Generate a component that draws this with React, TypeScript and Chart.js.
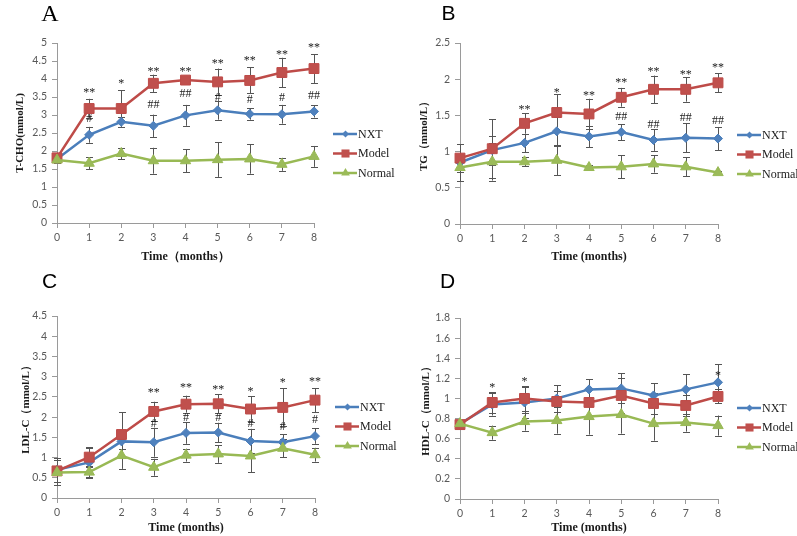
import React, { useEffect, useRef } from 'react';
import { Chart, registerables } from 'chart.js';

Chart.register(...registerables);

// ---------- data ----------
const months = [0, 1, 2, 3, 4, 5, 6, 7, 8];
const seriesNames = ['NXT', 'Model', 'Normal'];

// Panel A: T-CHO
const aNXT = [1.78, 2.45, 2.81, 2.7, 2.99, 3.13, 3.03, 3.02, 3.1];
const aNXTErr = [0.1, 0.22, 0.13, 0.31, 0.29, 0.26, 0.16, 0.26, 0.17];
const aModel = [1.81, 3.18, 3.18, 3.88, 3.97, 3.92, 3.96, 4.18, 4.29];
const aModelErr = [0.1, 0.27, 0.51, 0.24, 0.12, 0.37, 0.36, 0.41, 0.4];
const aNormal = [1.75, 1.66, 1.93, 1.73, 1.73, 1.76, 1.78, 1.63, 1.85];
const aNormalErr = [0.08, 0.16, 0.16, 0.36, 0.32, 0.48, 0.41, 0.18, 0.29];
const aStars = ['', '**', '*', '**', '**', '**', '**', '**', '**'];
const aStarY = [null, 3.72, 3.98, 4.3, 4.3, 4.54, 4.61, 4.77, 4.97];
const aHashes = ['', '#', '', '##', '##', '#', '#', '#', '##'];
const aHashY = [null, 2.91, null, 3.31, 3.61, 3.49, 3.44, 3.51, 3.56];

// Panel B: TG
const bNXT = [0.85, 1.02, 1.12, 1.28, 1.21, 1.27, 1.16, 1.19, 1.18];
const bNXTErr = [0.1, 0.2, 0.13, 0.2, 0.15, 0.11, 0.15, 0.2, 0.16];
const bModel = [0.91, 1.04, 1.39, 1.54, 1.52, 1.75, 1.86, 1.86, 1.95];
const bModelErr = [0.19, 0.41, 0.14, 0.25, 0.21, 0.13, 0.19, 0.17, 0.13];
const bNormal = [0.78, 0.86, 0.86, 0.88, 0.78, 0.79, 0.83, 0.79, 0.71];
const bNormalErr = [0.19, 0.26, 0.06, 0.21, 0.03, 0.16, 0.12, 0.13, 0.02];
const bStars = ['', '', '**', '*', '**', '**', '**', '**', '**'];
const bStarY = [null, null, 1.63, 1.86, 1.82, 2.0, 2.16, 2.11, 2.21];
const bHashes = ['', '', '', '', '', '##', '##', '##', '##'];
const bHashY = [null, null, null, null, null, 1.49, 1.38, 1.48, 1.44];

// Panel C: LDL-C
const cNXT = [0.7, 0.88, 1.4, 1.38, 1.61, 1.62, 1.41, 1.38, 1.53];
const cNXTErr = [0.3, 0.35, 0.2, 0.36, 0.27, 0.24, 0.3, 0.2, 0.19];
const cModel = [0.67, 1.01, 1.57, 2.14, 2.32, 2.33, 2.2, 2.24, 2.42];
const cModelErr = [0.1, 0.25, 0.55, 0.24, 0.21, 0.23, 0.31, 0.47, 0.3];
const cNormal = [0.63, 0.64, 1.05, 0.76, 1.06, 1.09, 1.04, 1.23, 1.07];
const cNormalErr = [0.32, 0.14, 0.33, 0.21, 0.16, 0.22, 0.4, 0.22, 0.17];
const cStars = ['', '', '', '**', '**', '**', '*', '*', '**'];
const cStarY = [null, null, null, 2.7, 2.83, 2.76, 2.73, 2.93, 2.97];
const cHashes = ['', '', '', '#', '#', '#', '#', '#', '#'];
const cHashY = [null, null, null, 1.85, 2.0, 2.0, 1.85, 1.78, 1.95];

// Panel D: HDL-C
const dNXT = [0.75, 0.94, 0.96, 1.0, 1.09, 1.1, 1.03, 1.09, 1.16];
const dNXTErr = [0.03, 0.11, 0.15, 0.13, 0.1, 0.15, 0.12, 0.15, 0.18];
const dModel = [0.74, 0.96, 1.0, 0.97, 0.96, 1.03, 0.95, 0.93, 1.02];
const dModelErr = [0.03, 0.1, 0.12, 0.1, 0.14, 0.17, 0.1, 0.1, 0.07];
const dNormal = [0.75, 0.66, 0.77, 0.78, 0.82, 0.84, 0.75, 0.76, 0.73];
const dNormalErr = [0.03, 0.07, 0.09, 0.13, 0.18, 0.19, 0.17, 0.09, 0.1];
const dStars = ['', '*', '*', '', '', '', '', '', '*'];
const dStarY = [null, 1.14, 1.2, null, null, null, null, null, 1.26];
const dHashes = ['', '', '', '', '', '', '', '', ''];
const dHashY = [null, null, null, null, null, null, null, null, null];

// ---------- styles ----------
const lineColors = ['#4A7EBB', '#BE4B48', '#98B954'];
const markerColors = ['#4F81BD', '#C0504D', '#9BBB59'];
const pointStyles = ['rectRot', 'rect', 'triangle'];
const pointRadii = [4.5, 7, 6];
const legendRadii = [3.5, 5.7, 5];
const drawOrder = [2, 1, 0];

type PanelSpec = {
  letter: string;
  letterFont: string;
  letterX: number;
  letterY: number;
  yTitle: string;
  xTitle: string;
  yMax: number;
  yStep: number;
  series: number[][];
  errs: number[][];
  stars: string[];
  starY: (number | null)[];
  hashes: string[];
  hashY: (number | null)[];
  box: { left: number; top: number; width: number; height: number };
  pad: { left: number; right: number; top: number; bottom: number };
  yWidth: number;
  xHeight: number;
  xTitlePad: { top: number; bottom: number };
  legendX: number;
  legendY: number;
};

const panels: PanelSpec[] = [
  {
    letter: 'A', letterFont: '24px "Liberation Serif"', letterX: 50, letterY: 21,
    yTitle: 'T-CHO(mmol/L)', xTitle: 'Time（months）', yMax: 5, yStep: 0.5,
    series: [aNXT, aModel, aNormal], errs: [aNXTErr, aModelErr, aNormalErr],
    stars: aStars, starY: aStarY, hashes: aHashes, hashY: aHashY,
    box: { left: 0, top: 0, width: 400, height: 268 },
    pad: { left: 10, right: 86, top: 43, bottom: 0 }, yWidth: 47, xHeight: 45,
    xTitlePad: { top: 4, bottom: 4 }, legendX: 333, legendY: 134,
  },
  {
    letter: 'B', letterFont: '21px "Liberation Sans"', letterX: 48.5, letterY: 20,
    yTitle: 'TG（mmol/L）', xTitle: 'Time (months)', yMax: 2.5, yStep: 0.5,
    series: [bNXT, bModel, bNormal], errs: [bNXTErr, bModelErr, bNormalErr],
    stars: bStars, starY: bStarY, hashes: bHashes, hashY: bHashY,
    box: { left: 400, top: 0, width: 397, height: 268 },
    pad: { left: 14, right: 79, top: 43, bottom: 0 }, yWidth: 46, xHeight: 44,
    xTitlePad: { top: 4, bottom: 4 }, legendX: 337, legendY: 135,
  },
  {
    letter: 'C', letterFont: '21px "Liberation Sans"', letterX: 49.5, letterY: 20,
    yTitle: 'LDL-C（mmol/L）', xTitle: 'Time (months)', yMax: 4.5, yStep: 0.5,
    series: [cNXT, cModel, cNormal], errs: [cNXTErr, cModelErr, cNormalErr],
    stars: cStars, starY: cStarY, hashes: cHashes, hashY: cHashY,
    box: { left: 0, top: 268, width: 400, height: 268 },
    pad: { left: 16, right: 85, top: 48, bottom: 0 }, yWidth: 41, xHeight: 38,
    xTitlePad: { top: 0, bottom: 1 }, legendX: 335, legendY: 139,
  },
  {
    letter: 'D', letterFont: '21px "Liberation Sans"', letterX: 47.5, letterY: 20,
    yTitle: 'HDL-C（mmol/L）', xTitle: 'Time (months)', yMax: 1.8, yStep: 0.2,
    series: [dNXT, dModel, dNormal], errs: [dNXTErr, dModelErr, dNormalErr],
    stars: dStars, starY: dStarY, hashes: dHashes, hashY: dHashY,
    box: { left: 400, top: 268, width: 397, height: 268 },
    pad: { left: 16, right: 79, top: 50, bottom: 0 }, yWidth: 44, xHeight: 37,
    xTitlePad: { top: 0, bottom: 1 }, legendX: 337, legendY: 140,
  },
];

function markerPath(ctx: CanvasRenderingContext2D, style: string, x: number, y: number, r: number) {
  ctx.beginPath();
  if (style === 'rectRot') {
    ctx.moveTo(x, y - r);
    ctx.lineTo(x + r, y);
    ctx.lineTo(x, y + r);
    ctx.lineTo(x - r, y);
  } else if (style === 'rect') {
    const s = r * Math.SQRT1_2;
    ctx.rect(x - s, y - s, 2 * s, 2 * s);
  } else {
    for (let k = 0; k < 3; k++) {
      const a = (k * 2 * Math.PI) / 3;
      const px = x + Math.sin(a) * r;
      const py = y - Math.cos(a) * r;
      if (k === 0) ctx.moveTo(px, py);
      else ctx.lineTo(px, py);
    }
  }
  ctx.closePath();
}

function buildChart(canvas: HTMLCanvasElement, p: PanelSpec) {
  const axisColor = '#9a9a9a';
  const tickFont = { family: 'Lato, "Liberation Sans", sans-serif', size: 10.5 };

  const errorBars = {
    id: 'errorBars',
    beforeDatasetsDraw(chart: any) {
      const { ctx, scales } = chart;
      const xs = scales.x;
      const ys = scales.y;
      ctx.save();
      ctx.strokeStyle = '#555555';
      ctx.lineWidth = 1;
      p.series.forEach((vals, si) => {
        vals.forEach((v, i) => {
          const e = p.errs[si][i];
          const px = Math.round(xs.getPixelForValue(months[i])) + 0.5;
          const top = ys.getPixelForValue(v + e);
          const bot = ys.getPixelForValue(v - e);
          ctx.beginPath();
          ctx.moveTo(px, top);
          ctx.lineTo(px, bot);
          ctx.moveTo(px - 3.5, Math.round(top) + 0.5);
          ctx.lineTo(px + 3.5, Math.round(top) + 0.5);
          ctx.moveTo(px - 3.5, Math.round(bot) + 0.5);
          ctx.lineTo(px + 3.5, Math.round(bot) + 0.5);
          ctx.stroke();
        });
      });
      ctx.restore();
    },
  };

  const marks = {
    id: 'marks',
    afterDatasetsDraw(chart: any) {
      const { ctx, scales } = chart;
      const xs = scales.x;
      const ys = scales.y;
      ctx.save();
      ctx.font = '12px "Liberation Serif"';
      ctx.fillStyle = '#1a1a1a';
      ctx.textAlign = 'center';
      ctx.textBaseline = 'alphabetic';
      months.forEach((m, i) => {
        const px = xs.getPixelForValue(m);
        const sy = p.starY[i];
        if (p.stars[i] && sy != null) ctx.fillText(p.stars[i], px, ys.getPixelForValue(sy) + 7);
        const hy = p.hashY[i];
        if (p.hashes[i] && hy != null) ctx.fillText(p.hashes[i], px, ys.getPixelForValue(hy) + 4);
      });
      ctx.restore();
    },
  };

  const legendAndLetter = {
    id: 'legendAndLetter',
    afterDraw(chart: any) {
      const { ctx } = chart;
      ctx.save();
      chart.data.datasets.forEach((ds: any, i: number) => {
        const y = p.legendY + i * 19.5;
        const x0 = p.legendX;
        ctx.strokeStyle = lineColors[i];
        ctx.lineWidth = 2.5;
        ctx.beginPath();
        ctx.moveTo(x0, y);
        ctx.lineTo(x0 + 24, y);
        ctx.stroke();
        ctx.fillStyle = markerColors[i];
        markerPath(ctx, pointStyles[i], x0 + 12.5, y, legendRadii[i]);
        ctx.fill();
        ctx.fillStyle = '#1a1a1a';
        ctx.font = '12px "Liberation Serif"';
        ctx.textAlign = 'left';
        ctx.textBaseline = 'middle';
        ctx.fillText(ds.label, x0 + 25, y + 0.5);
      });
      ctx.fillStyle = '#000000';
      ctx.font = p.letterFont;
      ctx.textAlign = 'center';
      ctx.textBaseline = 'alphabetic';
      ctx.fillText(p.letter, p.letterX, p.letterY);
      ctx.restore();
    },
  };

  return new Chart(canvas, {
    type: 'line',
    data: {
      datasets: seriesNames.map((name, si) => ({
        label: name,
        data: months.map((m, i) => ({ x: m, y: p.series[si][i] })),
        borderColor: lineColors[si],
        backgroundColor: markerColors[si],
        pointBackgroundColor: markerColors[si],
        pointBorderColor: lineColors[si],
        pointBorderWidth: 1,
        pointStyle: pointStyles[si] as any,
        pointRadius: pointRadii[si],
        borderWidth: 2.5,
        tension: 0,
        clip: false as any,
        order: drawOrder[si],
      })),
    },
    options: {
      responsive: false,
      animation: false,
      events: [],
      layout: { padding: p.pad },
      plugins: {
        legend: { display: false },
        tooltip: { enabled: false },
      },
      scales: {
        x: {
          type: 'linear',
          min: 0,
          max: 8,
          ticks: { stepSize: 1, color: '#595959', font: tickFont, padding: 3, maxRotation: 0 },
          grid: { display: true, drawOnChartArea: false, drawTicks: true, tickLength: 5, color: axisColor },
          border: { display: true, color: axisColor, width: 1 },
          title: {
            display: true,
            text: p.xTitle,
            color: '#1a1a1a',
            font: { family: '"Liberation Serif", serif', size: 12, weight: 'bold' },
            padding: p.xTitlePad,
          },
          afterFit: (s: any) => { s.height = p.xHeight; },
        } as any,
        y: {
          type: 'linear',
          min: 0,
          max: p.yMax,
          ticks: {
            stepSize: p.yStep,
            color: '#595959',
            font: tickFont,
            padding: 5,
            callback: (v: any) => String(Math.round(Number(v) * 10) / 10),
          },
          grid: { display: true, drawOnChartArea: false, drawTicks: true, tickLength: 5, color: axisColor },
          border: { display: true, color: axisColor, width: 1 },
          title: {
            display: true,
            text: p.yTitle,
            color: '#1a1a1a',
            font: { family: '"Liberation Serif", serif', size: 11, weight: 'bold' },
            padding: { top: 4, bottom: 4 },
          },
          afterFit: (s: any) => { s.width = p.yWidth; },
        } as any,
      },
    },
    plugins: [errorBars, marks, legendAndLetter],
  });
}

function Panel({ spec }: { spec: PanelSpec }) {
  const ref = useRef<HTMLCanvasElement | null>(null);
  useEffect(() => {
    if (!ref.current) return;
    const chart = buildChart(ref.current, spec);
    return () => chart.destroy();
  }, [spec]);
  return (
    <canvas
      ref={ref}
      width={spec.box.width}
      height={spec.box.height}
      style={{
        position: 'absolute',
        left: spec.box.left,
        top: spec.box.top,
        width: spec.box.width,
        height: spec.box.height,
        display: 'block',
      }}
    />
  );
}

export default function App() {
  return (
    <div
      style={{
        position: 'fixed',
        left: 0,
        top: 0,
        width: 797,
        height: 536,
        background: '#ffffff',
        overflow: 'hidden',
      }}
    >
      {panels.map((p) => (
        <Panel key={p.letter} spec={p} />
      ))}
    </div>
  );
}
